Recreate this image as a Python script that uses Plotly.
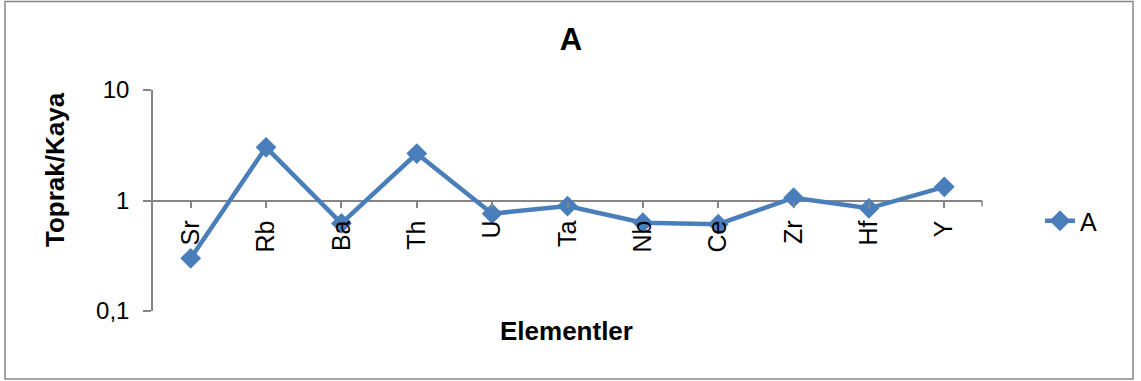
import plotly.graph_objects as go

# Element ratios (soil / rock)
elements = ["Sr", "Rb", "Ba", "Th", "U", "Ta", "Nb", "Ce", "Zr", "Hf", "Y"]
ratio_a = [0.30, 3.03, 0.62, 2.66, 0.76, 0.89, 0.63, 0.61, 1.06, 0.85, 1.33]
y_tick_vals = [0.1, 1, 10]
y_tick_text = ["0,1", "1", "10"]

W, H = 1141, 381
L, R, T, B = 153, 159, 90, 70
pw, ph = W - L - R, H - T - B

FONT = "Arial, Liberation Sans, sans-serif"
BLUE = "#4A7EBB"
GREY = "#868686"


def px_x(x):
    return (x - L) / pw


def px_y(y):
    return (H - B - y) / ph


fig = go.Figure()
fig.add_trace(go.Scatter(
    x=elements, y=ratio_a, name="A", mode="lines+markers",
    line=dict(color=BLUE, width=4.5),
    marker=dict(symbol="diamond", size=16, color=BLUE),
))

fig.update_layout(
    width=W, height=H,
    margin=dict(l=L, r=R, t=T, b=B),
    paper_bgcolor="white", plot_bgcolor="white",
    font=dict(family=FONT, size=24, color="black"),
    title=dict(text="<b>A</b>", x=px_x(571), xref="paper", xanchor="center",
               y=1 - 39 / H, yanchor="middle", font=dict(size=31)),
    showlegend=True,
    legend=dict(x=px_x(1040), xanchor="left", y=px_y(221), yanchor="middle",
                font=dict(size=25), bgcolor="rgba(0,0,0,0)"),
    xaxis=dict(
        type="category", range=[-0.5, len(elements) - 0.5],
        anchor="free", position=0.5,
        showline=False, showgrid=False, zeroline=False,
        ticks="outside", ticklen=6, tickcolor=GREY, tickwidth=1.5,
        tickangle=-90, ticklabelstandoff=3,
        tickfont=dict(size=25),
    ),
    yaxis=dict(
        type="log", range=[-1, 1],
        tickvals=y_tick_vals, ticktext=y_tick_text,
        showline=True, linecolor=GREY, linewidth=1.5,
        showgrid=True, gridcolor=GREY, gridwidth=1.5,
        ticks="outside", ticklen=8, tickcolor=GREY, tickwidth=1.5,
        ticklabelstandoff=9,
        tickfont=dict(size=24), zeroline=False,
    ),
    annotations=[
        dict(text="<b>Toprak/Kaya</b>", xref="paper", yref="paper",
             x=px_x(55), y=px_y(170), textangle=-90, showarrow=False,
             xanchor="center", yanchor="middle", font=dict(size=26)),
        dict(text="<b>Elementler</b>", xref="paper", yref="paper",
             x=px_x(566), y=px_y(331), showarrow=False,
             xanchor="center", yanchor="middle", font=dict(size=26)),
    ],
    shapes=[
        # outer chart frame
        dict(type="rect", xref="paper", yref="paper",
             x0=px_x(5), x1=px_x(1133), y0=px_y(379), y1=px_y(1.5),
             line=dict(color=GREY, width=1.5), fillcolor="rgba(0,0,0,0)",
             layer="below"),
        # closing tick at the right end of the category axis
        dict(type="line", xref="paper", yref="paper",
             x0=1, x1=1, y0=0.5, y1=0.5 - 6 / ph,
             line=dict(color=GREY, width=1.5)),
    ],
)

fig.write_html("out.html")
